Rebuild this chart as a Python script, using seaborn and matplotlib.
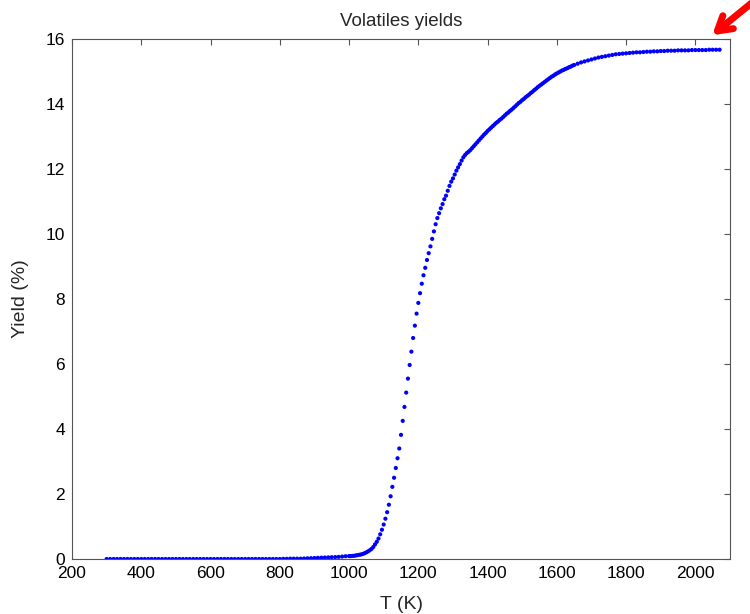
import matplotlib
matplotlib.use("Agg")
import matplotlib.pyplot as plt
import seaborn as sns
import pandas as pd

# ---- data ----
T_low = [300, 310, 320, 330, 340, 350, 360, 370, 380, 390, 400, 410, 420, 430, 440,
         450, 460, 470, 480, 490, 500, 510, 520, 530, 540, 550, 560, 570, 580, 590,
         600, 610, 620, 630, 640, 650, 660, 670, 680, 690, 700, 710, 720, 730, 740,
         750, 760, 770, 780, 790, 800, 810, 820, 830, 840, 850, 860, 870, 880, 890,
         900, 910, 920, 930, 940, 950, 960, 970, 980, 990, 1000]
Y_low = [0.0, 0.0, 0.0, 0.0, 0.0, 0.0, 0.0, 0.0, 0.0, 0.0, 0.0, 0.0, 0.0, 0.0, 0.0,
         0.0, 0.0, 0.0, 0.0, 0.0, 0.0, 0.0, 0.0, 0.0, 0.0, 0.0, 0.0, 0.0, 0.0, 0.0,
         0.0, 0.0, 0.0, 0.0, 0.0, 0.0, 0.0, 0.0, 0.0, 0.0, 0.0, 0.0, 0.0, 0.0, 0.0,
         0.0, 0.0, 0.0, 0.0, 0.0, 0.0, 0.005, 0.005, 0.01, 0.01, 0.01, 0.01, 0.015, 0.02, 0.025,
         0.03, 0.035, 0.04, 0.045, 0.05, 0.055, 0.06, 0.065, 0.075, 0.085, 0.09]

T_rise = [1005, 1010, 1015, 1020, 1025, 1030, 1035, 1040, 1045, 1050, 1055, 1060, 1065,
          1070, 1075, 1080, 1085, 1090, 1095, 1100, 1105, 1110, 1115, 1120, 1125, 1130,
          1135, 1140, 1145, 1150, 1155, 1160, 1165, 1170, 1175, 1180, 1185, 1190, 1195,
          1200, 1205, 1210, 1215, 1220, 1225, 1230, 1235, 1240, 1245, 1250, 1255, 1260,
          1265, 1270, 1275, 1280, 1285, 1290, 1295, 1300, 1305, 1310, 1315, 1320, 1325,
          1330, 1335, 1340, 1345]
Y_rise = [0.09, 0.095, 0.10, 0.11, 0.12, 0.13, 0.14, 0.155, 0.18, 0.205, 0.235, 0.27, 0.31,
          0.37, 0.45, 0.53, 0.63, 0.76, 0.90, 1.06, 1.24, 1.44, 1.67, 1.93, 2.22, 2.50,
          2.80, 3.10, 3.40, 3.82, 4.25, 4.68, 5.12, 5.55, 5.97, 6.38, 6.80, 7.18, 7.55,
          7.88, 8.18, 8.47, 8.73, 8.96, 9.20, 9.41, 9.62, 9.85, 10.08, 10.30, 10.49, 10.64,
          10.79, 10.92, 11.07, 11.18, 11.33, 11.48, 11.61, 11.71, 11.83, 11.95, 12.05, 12.15, 12.26,
          12.36, 12.43, 12.49, 12.53]

T_high = [1350, 1355, 1360, 1365, 1370, 1375, 1380, 1385, 1390, 1395, 1400, 1405, 1410,
          1415, 1420, 1425, 1430, 1435, 1440, 1445, 1450, 1455, 1460, 1465, 1470, 1475,
          1480, 1485, 1490, 1495, 1500, 1505, 1510, 1515, 1520, 1525, 1530, 1535, 1540,
          1545, 1550, 1555, 1560, 1565, 1570, 1575, 1580, 1585, 1590, 1595, 1600, 1605,
          1610, 1615, 1620, 1625, 1630, 1635, 1640, 1645, 1650, 1660, 1670, 1680, 1690,
          1700, 1710, 1720, 1730, 1740, 1750, 1760, 1770, 1780, 1790, 1800, 1810, 1820,
          1830, 1840, 1850, 1860, 1870, 1880, 1890, 1900, 1910, 1920, 1930, 1940, 1950,
          1960, 1970, 1980, 1990, 2000, 2010, 2020, 2030, 2040, 2050, 2060, 2070]
Y_high = [12.58, 12.64, 12.70, 12.76, 12.82, 12.88, 12.94, 13.00, 13.06, 13.11, 13.17, 13.22, 13.27,
          13.32, 13.37, 13.42, 13.46, 13.51, 13.55, 13.60, 13.65, 13.70, 13.74, 13.79, 13.83, 13.88,
          13.93, 13.98, 14.03, 14.07, 14.12, 14.16, 14.21, 14.25, 14.29, 14.34, 14.38, 14.43, 14.47,
          14.52, 14.56, 14.60, 14.64, 14.68, 14.72, 14.76, 14.80, 14.84, 14.87, 14.91, 14.94, 14.97,
          15.00, 15.03, 15.05, 15.08, 15.10, 15.13, 15.15, 15.18, 15.20, 15.24, 15.28, 15.31, 15.34,
          15.37, 15.40, 15.43, 15.45, 15.47, 15.49, 15.51, 15.53, 15.54, 15.55, 15.56, 15.57, 15.58,
          15.59, 15.59, 15.60, 15.61, 15.61, 15.62, 15.62, 15.63, 15.63, 15.64, 15.64, 15.64, 15.65,
          15.65, 15.65, 15.65, 15.66, 15.66, 15.66, 15.66, 15.66, 15.67, 15.67, 15.67, 15.67]

x_ticks = [200, 400, 600, 800, 1000, 1200, 1400, 1600, 1800, 2000]
y_ticks = [0, 2, 4, 6, 8, 10, 12, 14, 16]

title = "Volatiles yields"
x_label = "T (K)"
y_label = "Yield (%)"

# ---- build table ----
df = pd.DataFrame({
    "T": T_low + T_rise + T_high,
    "Y": Y_low + Y_rise + Y_high,
})

sns.set_style("white")
plt.rcParams["font.family"] = ["Liberation Sans", "DejaVu Sans"]

fig = plt.figure(figsize=(7.5, 6.14), dpi=100)
ax = fig.add_axes([72 / 750, 55 / 614, (730 - 72) / 750, (559 - 39) / 614])

sns.scatterplot(data=df, x="T", y="Y", ax=ax, color="#0000ff", marker="o",
                s=9, linewidth=0, edgecolor="none", legend=False)

ax.set_xlim(200, 2100)
ax.set_ylim(0, 16)
ax.set_xticks(x_ticks)
ax.set_yticks(y_ticks)
ax.tick_params(direction="in", length=4.5, width=0.8, color="#555555",
               top=True, right=True, labelsize=12.5, labelcolor="black")
ax.tick_params(axis="y", pad=5)
ax.tick_params(axis="x", pad=5)
for sp in ax.spines.values():
    sp.set_visible(True)
    sp.set_color("#555555")
    sp.set_linewidth(0.8)

ax.set_title(title, fontsize=13.5, pad=9)
ax.set_xlabel(x_label, fontsize=14, labelpad=11)
ax.set_ylabel(y_label, fontsize=14, labelpad=12)

# red arrow at top right (figure coords)
ax.annotate("", xy=(710 / 750, 1 - 37 / 614), xycoords="figure fraction",
            xytext=(765 / 750, 1 + 8 / 614), textcoords="figure fraction",
            arrowprops=dict(arrowstyle="->,head_length=1.0,head_width=0.6",
                            color="#ff0000", lw=5),
            annotation_clip=False)

fig.savefig("out.png", dpi=100, facecolor="white")
